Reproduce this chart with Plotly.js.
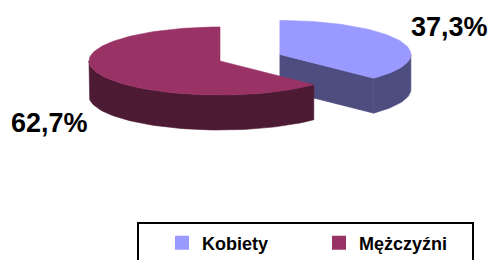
<!DOCTYPE html>
<html><head><meta charset="utf-8">
<script src="https://cdn.plot.ly/plotly-3.0.1.min.js"></script>
<style>html,body{margin:0;padding:0;background:#fff;overflow:hidden}#chart{width:492px;height:272px}</style>
</head><body><div id="chart"></div>
<script>
// ---- data ----
const categories = ["Kobiety", "Mężczyźni"];
const values = [37.3, 62.7];
const valueLabels = ["37,3%", "62,7%"];
const topColors = ["#9999FF", "#993366"];
const sideColors = ["#4D4D80", "#4D1A33"];
const explodeAmounts = [65, 0];

// ---- geometry (pixel units through axes) ----
const W = 492, H = 272;
const CX = 220, CY = 61, RX = 131, RY = 34, DEPTH = 35;

const total = values.reduce((a, b) => a + b, 0);
let acc = 0;
const slices = values.map((v, i) => {
  const a0 = acc / total * 360; acc += v; const a1 = acc / total * 360;
  const mid = (a0 + a1) / 2 * Math.PI / 180;
  const e = explodeAmounts[i];
  return { i, a0, a1, mid, cx: CX + e * Math.sin(mid), cy: CY - e * Math.cos(mid) * RY / RX };
});

function pt(s, deg, dz) {
  const r = deg * Math.PI / 180;
  return [s.cx + RX * Math.sin(r), s.cy - RY * Math.cos(r) + dz];
}
function arc(s, d0, d1, dz) {
  const n = Math.max(2, Math.ceil(Math.abs(d1 - d0) / 2));
  const out = [];
  for (let k = 0; k <= n; k++) out.push(pt(s, d0 + (d1 - d0) * k / n, dz));
  return out;
}
function poly(points, color) {
  const xs = points.map(p => p[0]), ys = points.map(p => p[1]);
  xs.push(xs[0]); ys.push(ys[0]);
  return { type: 'scatter', x: xs, y: ys, mode: 'lines', fill: 'toself', fillcolor: color,
    line: { color: color, width: 0.6 }, hoverinfo: 'skip', showlegend: false };
}

const traces = [];
const order = slices.slice().sort((a, b) => (-Math.cos(a.mid)) - (-Math.cos(b.mid)));
order.forEach(s => {
  const side = sideColors[s.i];
  const w0 = Math.max(s.a0, 90), w1 = Math.min(s.a1, 270);
  if (w1 > w0) {
    const top = arc(s, w0, w1, 0), bot = arc(s, w1, w0, DEPTH);
    traces.push(poly(top.concat(bot), side));
  }
  const c = [s.cx, s.cy], cb = [s.cx, s.cy + DEPTH];
  if (Math.sin(s.a0 * Math.PI / 180) < -1e-6) {
    traces.push(poly([c, pt(s, s.a0, 0), pt(s, s.a0, DEPTH), cb], side));
  }
  if (Math.sin(s.a1 * Math.PI / 180) > 1e-6) {
    traces.push(poly([c, pt(s, s.a1, 0), pt(s, s.a1, DEPTH), cb], side));
  }
  traces.push(poly([c].concat(arc(s, s.a0, s.a1, 0)), topColors[s.i]));
});

categories.forEach((name, i) => {
  traces.push({ type: 'scatter', x: [null], y: [null], mode: 'markers', name: name,
    marker: { symbol: 'square', size: 14, color: topColors[i] }, hoverinfo: 'skip' });
});

const FONT = 'Liberation Sans, Arial, sans-serif';
const layout = {
  width: W, height: H,
  margin: { l: 0, r: 0, t: 0, b: 0 },
  paper_bgcolor: '#fff', plot_bgcolor: '#fff',
  xaxis: { range: [0, W], visible: false, fixedrange: true },
  yaxis: { range: [H, 0], visible: false, fixedrange: true },
  showlegend: true,
  legend: {
    orientation: 'h', x: 162 / W, y: 1 - 243 / H, xanchor: 'left', yanchor: 'middle',
    borderwidth: 0, bgcolor: 'rgba(0,0,0,0)',
    font: { family: FONT, size: 18, color: '#000', weight: 'bold' },
    entrywidth: 112, entrywidthmode: 'pixels', itemclick: false, itemdoubleclick: false
  },
  shapes: [
    { type: 'rect', xref: 'paper', yref: 'paper', x0: 138 / W, x1: 473 / W, y0: 1 - 266 / H, y1: 1 - 223 / H,
      line: { color: '#000', width: 2 }, fillcolor: 'rgba(0,0,0,0)', layer: 'below' }
  ],
  annotations: [
    { xref: 'paper', yref: 'paper', x: 449 / W, y: 1 - 27 / H, xanchor: 'center', yanchor: 'middle',
      text: valueLabels[0], showarrow: false,
      font: { family: FONT, size: 27, color: '#000', weight: 'bold' } },
    { xref: 'paper', yref: 'paper', x: 49 / W, y: 1 - 123 / H, xanchor: 'center', yanchor: 'middle',
      text: valueLabels[1], showarrow: false,
      font: { family: FONT, size: 27, color: '#000', weight: 'bold' } }
  ]
};

Plotly.newPlot('chart', traces, layout, { staticPlot: true, displayModeBar: false });
</script>
</body></html>
